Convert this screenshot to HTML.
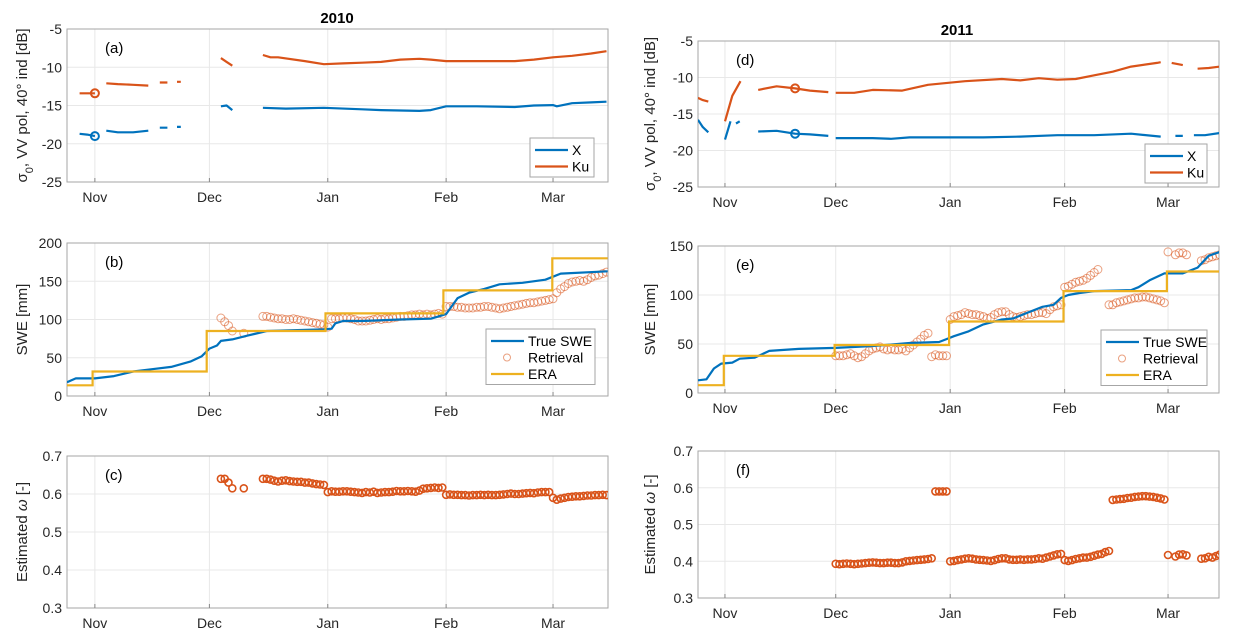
<!DOCTYPE html>
<html><head><meta charset="utf-8"><style>
html,body{margin:0;padding:0;background:#fff;}
svg{display:block;font-family:"Liberation Sans",Arial,sans-serif;}
</style></head><body>
<svg id="fig" width="1237" height="642" viewBox="0 0 1237 642"></svg>
<script>
// ---- data (day 0 = Nov 1) ----
const monthTicks = [0, 30, 61, 92, 120];
const monthLabels = ["Nov", "Dec", "Jan", "Feb", "Mar"];
const sigmaTicks = [-5, -10, -15, -20, -25];
const swe2010Ticks = [0, 50, 100, 150, 200];
const swe2011Ticks = [0, 50, 100, 150];
const omegaTicks = [0.3, 0.4, 0.5, 0.6, 0.7];

// panel (a) 2010 backscatter, null = gap
const xDays2010 = [-4,-2,0,null,3,6,10,14,null,17,19,null,21.5,22.5,null,33,34.5,36,null,44,50,60,70,75,85,88,92,100,110,115,120,121,125,130,134];
const xVals2010 = [-18.7,-18.8,-19,null,-18.3,-18.5,-18.5,-18.3,null,-17.9,-17.9,null,-17.8,-17.8,null,-15.1,-15,-15.6,null,-15.3,-15.4,-15.3,-15.5,-15.6,-15.7,-15.6,-15.1,-15.1,-15.2,-15.0,-14.95,-15.1,-14.7,-14.6,-14.5];
const kuDays2010 = [-4,-2,0,null,3,6,10,14,null,17,19,null,21.5,22.5,null,33,34.5,36,null,44,46,48,55,60,65,70,75,80,85,88,92,100,110,115,120,125,130,134];
const kuVals2010 = [-13.4,-13.4,-13.4,null,-12.1,-12.2,-12.3,-12.4,null,-12.0,-12.0,null,-11.9,-11.9,null,-8.8,-9.3,-9.8,null,-8.4,-8.7,-8.7,-9.2,-9.6,-9.5,-9.4,-9.3,-9.0,-8.9,-9.0,-9.2,-9.2,-9.2,-9.0,-8.7,-8.5,-8.2,-7.9];
const xMarker2010 = [0, -19];
const kuMarker2010 = [0, -13.4];

// panel (d) 2011 backscatter
const xDays2011 = [-7.3,-6,-4.5,null,0,1.5,null,3,4,null,9,14,19,23,28,null,30,35,40,45,50,60,70,80,90,100,110,118,null,122,124,null,127,130,134];
const xVals2011 = [-15.8,-16.8,-17.5,null,-18.5,-16,null,-16.3,-16,null,-17.4,-17.3,-17.7,-17.8,-18.0,null,-18.3,-18.3,-18.3,-18.4,-18.2,-18.2,-18.2,-18.1,-17.9,-17.9,-17.7,-18.1,null,-18.0,-18.0,null,-17.9,-17.9,-17.6];
const kuDays2011 = [-7.3,-6,-4.5,null,0,2,4.2,null,9,14,19,23,28,null,30,35,40,48,55,65,75,80,85,90,95,100,105,110,117,118,null,121,124,null,128,131,134];
const kuVals2011 = [-12.8,-13.1,-13.3,null,-16,-12.5,-10.5,null,-11.7,-11.2,-11.5,-11.8,-12.0,null,-12.1,-12.1,-11.7,-11.8,-11.0,-10.5,-10.2,-10.4,-10.1,-10.3,-10.2,-9.7,-9.2,-8.5,-8.0,-7.9,null,-8.0,-8.3,null,-8.8,-8.7,-8.5];
const xMarker2011 = [19, -17.7];
const kuMarker2011 = [19, -11.5];

// panel (b) 2010 SWE
const trueDays2010 = [-7.3,-5,0,5,10,15,20,25,28,30,32,33,36,40,45,60,62,63,65,70,80,88,90,92,95,98,102,106,112,118,120,122,134.3];
const trueVals2010 = [18,23,23,26,32,35,38,45,52,62,66,72,74,79,85,87,88,95,98,98,100,101,104,107,128,135,140,146,148,152,156,160,163];
const eraDays2010 = [-7.3,-0.6,29.3,60.4,91.3,119.8,134.3];
const eraVals2010 = [14,32,85,108,138,180];
const retDays2010 = [33,34,35,36,39].concat(range(44,61), range(62,91), range(92,120), range(121,134));
const retVals2010 = [102,97,92,85,82,
 104,104,103,102,101,101,100,100,101,100,99,98,97,96,95,94,93,90,
 101,101,101,102,102,101,100,98,98,98,99,100,101,100,101,101,102,103,104,104,105,106,106,107,106,107,106,107,108,107,
 117,117,117,116,116,115,115,115,116,116,117,117,116,115,114,115,116,117,118,119,120,121,122,122,123,124,125,126,127,
 135,140,143,147,149,150,151,150,152,155,157,158,160,162];

// panel (e) 2011 SWE
const trueDays2011 = [-7.3,-5,-3,-1,2,4,8,12,16,20,30,40,50,58,60,62,66,70,75,78,82,86,89,91,93,96,100,110,112,115,119,124,128,131,134];
const trueVals2011 = [13,14,25,30,31,35,36,43,44,45,46,48,51,52,55,58,63,70,75,76,82,88,90,97,100,102,104,105,108,115,122,122,128,140,144];
const eraDays2011 = [-7.3,-0.3,29.7,60.7,91.7,119.7,134.2];
const eraVals2011 = [8,38,49,73,104,124];
const retDays2011 = range(30,60).concat(range(61,101), range(104,120), [122,123,124,125], range(129,134));
const retVals2011 = [38,38,38,39,40,38,36,37,40,43,45,46,47,45,44,45,44,44,45,43,46,49,52,55,59,61,
 37,39,38,38,38,
 75,78,79,80,82,81,80,80,79,78,76,77,80,82,83,83,80,78,77,78,79,80,80,81,82,82,81,85,88,89,90,
 108,109,111,113,114,115,117,120,123,126,
 90,90,92,93,94,95,96,97,97,98,98,97,96,95,94,92,144,
 141,143,143,141,
 135,136,138,139,140,141];

// panel (c) 2010 omega
const omDays2010 = [33,34,35,36,39].concat(range(44,60), range(61,91), range(92,119), range(120,134));
const omVals2010 = [0.64,0.64,0.63,0.615,0.615,
 0.64,0.64,0.638,0.635,0.633,0.635,0.636,0.634,0.633,0.632,0.632,0.63,0.63,0.628,0.626,0.625,0.624,
 0.605,0.607,0.606,0.606,0.607,0.607,0.606,0.605,0.604,0.603,0.605,0.604,0.606,0.603,0.604,0.605,0.605,0.606,0.608,0.607,0.607,0.608,0.607,0.606,0.609,0.614,0.615,0.616,0.617,0.616,0.617,
 0.598,0.599,0.598,0.598,0.597,0.597,0.596,0.597,0.597,0.598,0.597,0.598,0.597,0.597,0.598,0.599,0.6,0.601,0.6,0.6,0.601,0.602,0.603,0.602,0.604,0.605,0.605,0.605,
 0.59,0.585,0.588,0.59,0.592,0.593,0.594,0.594,0.595,0.596,0.596,0.597,0.597,0.598,0.597];

// panel (f) 2011 omega
const omDays2011 = range(30,56).concat(range(57,60), range(61,91), range(92,104), range(105,119), [120,122,123,124,125], range(129,134));
const omVals2011 = [0.393,0.392,0.393,0.394,0.393,0.392,0.393,0.394,0.395,0.396,0.397,0.396,0.395,0.395,0.396,0.396,0.395,0.395,0.397,0.4,0.401,0.402,0.403,0.404,0.405,0.406,0.408,
 0.59,0.59,0.59,0.59,
 0.4,0.401,0.403,0.405,0.407,0.408,0.407,0.405,0.404,0.403,0.402,0.401,0.403,0.406,0.408,0.408,0.405,0.404,0.404,0.405,0.404,0.405,0.405,0.406,0.408,0.407,0.41,0.413,0.416,0.419,0.42,
 0.403,0.401,0.403,0.406,0.408,0.41,0.41,0.412,0.415,0.418,0.42,0.425,0.428,
 0.567,0.568,0.569,0.57,0.572,0.573,0.575,0.576,0.577,0.577,0.576,0.575,0.573,0.571,0.568,
 0.417,0.413,0.418,0.419,0.416,
 0.407,0.408,0.412,0.41,0.414,0.418];

function range(a,b){const r=[];for(let i=a;i<=b;i++)r.push(i);return r;}

// ---- rendering ----
const NS="http://www.w3.org/2000/svg";
const svg=document.getElementById('fig');
const BLUE="#0072BD", ORANGE="#D95319", YELLOW="#EDB120";
function el(tag,attrs,parent){const e=document.createElementNS(NS,tag);for(const k in attrs)e.setAttribute(k,attrs[k]);(parent||svg).appendChild(e);return e;}

function makePanel(o){
  const g=el('g',{});
  
  
  const X=d=>o.x0+(d-o.d0)/(o.d1-o.d0)*(o.x1-o.x0);
  const Y=v=>o.y1-(v-o.v0)/(o.v1-o.v0)*(o.y1-o.y0);
  // grid
  monthTicks.forEach(d=>{const l=el('line',{x1:X(d),x2:X(d),y1:o.y0,y2:o.y1,stroke:"#e8e8e8","stroke-width":1},g);
    
    });
  o.ticks.forEach(v=>{const l=el('line',{x1:o.x0,x2:o.x1,y1:Y(v),y2:Y(v),stroke:"#e8e8e8","stroke-width":1},g);
    
    });
  // box
  const box=el('rect',{x:o.x0,y:o.y0,width:o.x1-o.x0,height:o.y1-o.y0,fill:"none",stroke:"#a6a6a6","stroke-width":1},g);
  
  
  // ticks
  monthTicks.forEach((d,i)=>{
    el('line',{x1:X(d),x2:X(d),y1:o.y1,y2:o.y1-4,stroke:"#888"},g);
    const t=el('text',{x:X(d),y:o.y1+20,"text-anchor":"middle","font-size":14,fill:"#262626"},g);
    t.textContent=monthLabels[i];
    
    
  });
  o.ticks.forEach(v=>{
    const t=el('text',{x:o.x0-5,y:Y(v)+5,"text-anchor":"end","font-size":14,fill:"#262626"},g);
    t.textContent=(o.fmt?o.fmt(v):String(v));
    
    
  });
  // clip
  const cid='clip'+o.name;
  const cp=el('clipPath',{id:cid},g); el('rect',{x:o.x0,y:o.y0,width:o.x1-o.x0,height:o.y1-o.y0},cp);
  const pg=el('g',{"clip-path":"url(#"+cid+")"},g);
  // panel letter
  const pl=el('text',{x:o.x0+o.lx,y:o.y0+24,"font-size":15,fill:"#000"},g);
  pl.textContent=o.letter;
  
  
  // y label
  const yl=el('text',{transform:`translate(${o.ylx},${(o.y0+o.y1)/2}) rotate(-90)`,"text-anchor":"middle","font-size":15,fill:"#262626"},g);
  yl.innerHTML=o.ylabel;
  
  
  return {g,pg,X,Y};
}

function linePath(P,days,vals,color,name){
  let d="",pen=false;
  for(let i=0;i<days.length;i++){
    if(days[i]===null||vals[i]===null){pen=false;continue;}
    d+=(pen?"L":"M")+P.X(days[i]).toFixed(1)+","+P.Y(vals[i]).toFixed(1);pen=true;
  }
  const p=el('path',{d:d,fill:"none",stroke:color,"stroke-width":2.2,"stroke-linejoin":"round"},P.pg);
  
  
}
function stepPath(P,edges,vals,color,name){
  let d="";
  for(let i=0;i<vals.length;i++){
    d+=(i===0?"M":"L")+P.X(edges[i]).toFixed(1)+","+P.Y(vals[i]).toFixed(1);
    d+="L"+P.X(edges[i+1]).toFixed(1)+","+P.Y(vals[i]).toFixed(1);
  }
  const p=el('path',{d:d,fill:"none",stroke:color,"stroke-width":2.2},P.pg);
  
  
}
function circles(P,days,vals,color,r,sw,op,name){
  for(let i=0;i<days.length&&i<vals.length;i++){
    const c=el('circle',{cx:P.X(days[i]).toFixed(1),cy:P.Y(vals[i]).toFixed(1),r:r,fill:"none",stroke:color,"stroke-width":sw,"stroke-opacity":op},P.pg);
    
    
  }
}
function legend(x,y,w,entries,name){
  const g=el('g',{});
  
  
  el('rect',{x:x,y:y,width:w,height:entries.length*16.5+6,fill:"#fff",stroke:"#a6a6a6"},g);
  entries.forEach((e,i)=>{
    const cy=y+12+i*16.5;
    if(e.type==='line') el('line',{x1:x+5,x2:x+38,y1:cy,y2:cy,stroke:e.color,"stroke-width":2.2},g);
    else el('circle',{cx:x+21,cy:cy,r:3.5,fill:"none",stroke:e.color,"stroke-opacity":0.55},g);
    const t=el('text',{x:x+42,y:cy+5,"font-size":14,fill:"#000"},g);
    t.textContent=e.label;
    
    
  });
}

const L={x0:67,x1:608,d0:-7.3,d1:134.4,ylx:27,lx:38};
const R={x0:698,x1:1219,d0:-7.3,d1:133.8,ylx:655,lx:38};
const sigLabel='σ<tspan baseline-shift="sub" font-size="11">0</tspan>, VV pol, 40° ind [dB]';

// titles
let t=el('text',{x:337,y:23,"text-anchor":"middle","font-size":15,"font-weight":"bold"});t.textContent="2010";


t=el('text',{x:957,y:35,"text-anchor":"middle","font-size":15,"font-weight":"bold"});t.textContent="2011";



// (a)
let P=makePanel(Object.assign({},L,{name:'panel-a',y0:29,y1:182,v0:-25,v1:-5,ticks:sigmaTicks,letter:'(a)',ylabel:sigLabel}));
linePath(P,xDays2010,xVals2010,BLUE,'x-band-line');
linePath(P,kuDays2010,kuVals2010,ORANGE,'ku-band-line');
circles(P,[xMarker2010[0]],[xMarker2010[1]],BLUE,4,2,1,'x-band-marker');
circles(P,[kuMarker2010[0]],[kuMarker2010[1]],ORANGE,4,2,1,'ku-band-marker');
legend(530,138,64,[{type:'line',color:BLUE,label:'X'},{type:'line',color:ORANGE,label:'Ku'}],'legend-a');

// (d)
P=makePanel(Object.assign({},R,{name:'panel-d',y0:41,y1:187,v0:-25,v1:-5,ticks:sigmaTicks,letter:'(d)',ylabel:sigLabel}));
linePath(P,xDays2011,xVals2011,BLUE,'x-band-line');
linePath(P,kuDays2011,kuVals2011,ORANGE,'ku-band-line');
circles(P,[xMarker2011[0]],[xMarker2011[1]],BLUE,4,2,1,'x-band-marker');
circles(P,[kuMarker2011[0]],[kuMarker2011[1]],ORANGE,4,2,1,'ku-band-marker');
legend(1145,144,62,[{type:'line',color:BLUE,label:'X'},{type:'line',color:ORANGE,label:'Ku'}],'legend-d');

// (b)
P=makePanel(Object.assign({},L,{name:'panel-b',y0:243,y1:396,v0:0,v1:200,ticks:swe2010Ticks,letter:'(b)',ylabel:'SWE [mm]'}));
circles(P,retDays2010,retVals2010,ORANGE,4,1,0.55,'retrieval-point');
linePath(P,trueDays2010,trueVals2010,BLUE,'true-swe-line');
stepPath(P,eraDays2010,eraVals2010,YELLOW,'era-line');
legend(486,329,109,[{type:'line',color:BLUE,label:'True SWE'},{type:'circle',color:ORANGE,label:'Retrieval'},{type:'line',color:YELLOW,label:'ERA'}],'legend-b');

// (e)
P=makePanel(Object.assign({},R,{name:'panel-e',y0:246,y1:393,v0:0,v1:150,ticks:swe2011Ticks,letter:'(e)',ylabel:'SWE [mm]'}));
circles(P,retDays2011,retVals2011,ORANGE,4,1,0.55,'retrieval-point');
linePath(P,trueDays2011,trueVals2011,BLUE,'true-swe-line');
stepPath(P,eraDays2011,eraVals2011,YELLOW,'era-line');
legend(1101,330,106,[{type:'line',color:BLUE,label:'True SWE'},{type:'circle',color:ORANGE,label:'Retrieval'},{type:'line',color:YELLOW,label:'ERA'}],'legend-e');

// (c)
const f1=v=>v.toFixed(1);
P=makePanel(Object.assign({},L,{name:'panel-c',y0:456,y1:608,v0:0.3,v1:0.7,ticks:omegaTicks,fmt:f1,letter:'(c)',ylabel:'Estimated <tspan font-style="italic">ω</tspan> [-]'}));
circles(P,omDays2010,omVals2010,ORANGE,3.5,1.6,1,'omega-point');

// (f)
P=makePanel(Object.assign({},R,{name:'panel-f',y0:451,y1:598,v0:0.3,v1:0.7,ticks:omegaTicks,fmt:f1,letter:'(f)',ylabel:'Estimated <tspan font-style="italic">ω</tspan> [-]'}));
circles(P,omDays2011,omVals2011,ORANGE,3.5,1.6,1,'omega-point');
</script>
</body></html>
